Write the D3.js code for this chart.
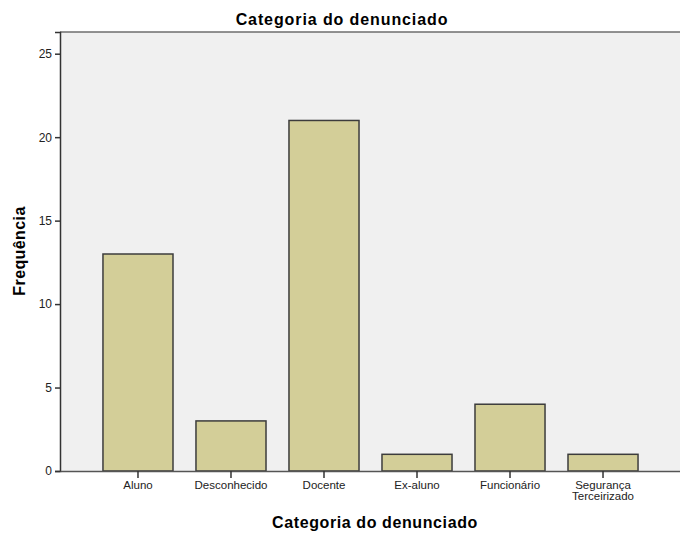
<!DOCTYPE html>
<html>
<head>
<meta charset="utf-8">
<script src="https://cdn.jsdelivr.net/npm/d3@7"></script>
<style>
  body { margin: 0; background: #fff; }
  text { font-family: "Liberation Sans", Arial, sans-serif; }
</style>
</head>
<body>
<div id="chart-area"></div>
<script>

// Data
var categories = ["Aluno", "Desconhecido", "Docente", "Ex-aluno", "Funcionário", "Segurança Terceirizado"];
var counts = [13, 3, 21, 1, 4, 1];
var yTicks = [0, 5, 10, 15, 20, 25];

var data = categories.map(function(c, i) { return {cat: c, n: counts[i]}; });

// SVG drawing area
var margin = {top: 32, right: -1, bottom: 66, left: 60};

var width = 680 - margin.left - margin.right,
    height = 537 - margin.top - margin.bottom;

var svg = d3.select("#chart-area").append("svg")
    .attr("width", 680)
    .attr("height", 537)
  .append("g")
    .attr("transform", "translate(" + margin.left + "," + margin.top + ")");

// Scales
var x = d3.scaleBand()
    .domain(categories)
    .range([0, width])
    .paddingInner(0.247)
    .paddingOuter(0.462);

var y = d3.scaleLinear()
    .domain([0, 26.3])
    .range([height, 0]);

// plot background
svg.append("rect")
    .attr("x", 0).attr("y", 0)
    .attr("width", width).attr("height", height)
    .attr("fill", "#f0f0f0");

svg.append("line")
    .attr("x1", 0).attr("x2", width)
    .attr("y1", 0).attr("y2", 0)
    .attr("stroke", "#6e6e6e")
    .attr("stroke-width", 1.5);

// Bars
svg.selectAll("rect.bar")
    .data(data)
  .enter().append("rect")
    .attr("class", "bar")
    .attr("x", function(d) { return x(d.cat); })
    .attr("y", function(d) { return y(d.n); })
    .attr("width", x.bandwidth())
    .attr("height", function(d) { return height - y(d.n); })
    .attr("fill", "#d3ce98")
    .attr("stroke", "#3c3c3c")
    .attr("stroke-width", 1.5);

// Axes
var yAxis = d3.axisLeft(y).tickValues(yTicks).tickSize(5).tickPadding(3);
var gy = svg.append("g").attr("class", "axis y-axis").call(yAxis);
gy.select(".domain").attr("stroke", "#333").attr("stroke-width", 1.5);
gy.selectAll(".tick line").attr("stroke", "#333").attr("stroke-width", 1.5);
gy.selectAll("text").attr("font-size", 12).attr("fill", "#222")
    .attr("font-family", "'Liberation Sans', Arial, sans-serif");

var xAxis = d3.axisBottom(x).tickSize(7).tickSizeOuter(0).tickPadding(3);
var gx = svg.append("g").attr("class", "axis x-axis")
    .attr("transform", "translate(0," + height + ")")
    .call(xAxis);
gx.select(".domain").attr("stroke", "#555").attr("stroke-width", 1.5);
gx.selectAll(".tick line").attr("stroke", "#333").attr("stroke-width", 1.5);
gx.selectAll("text")
    .attr("font-size", 11.5).attr("fill", "#222")
    .attr("font-family", "'Liberation Sans', Arial, sans-serif")
    .each(function(d) {
        var words = d.split(" ");
        if (words.length > 1) {
            var t = d3.select(this).text(null);
            words.forEach(function(w, i) {
                t.append("tspan").attr("x", 0).attr("dy", i === 0 ? "0.71em" : "0.92em").text(w);
            });
            t.attr("dy", null);
        }
    });

// Titles
svg.append("text")
    .attr("x", 342 - margin.left).attr("y", 25 - margin.top)
    .attr("text-anchor", "middle")
    .attr("font-size", 16).attr("font-weight", "bold")
    .attr("letter-spacing", 0.9)
    .text("Categoria do denunciado");

svg.append("text")
    .attr("x", 375 - margin.left).attr("y", 528 - margin.top)
    .attr("text-anchor", "middle")
    .attr("font-size", 16).attr("font-weight", "bold")
    .attr("letter-spacing", 0.6)
    .text("Categoria do denunciado");

svg.append("text")
    .attr("transform", "translate(" + (25 - margin.left) + "," + (251 - margin.top) + ") rotate(-90)")
    .attr("text-anchor", "middle")
    .attr("font-size", 16).attr("font-weight", "bold")
    .attr("letter-spacing", 0.4)
    .text("Frequência");

</script>
</body>
</html>
